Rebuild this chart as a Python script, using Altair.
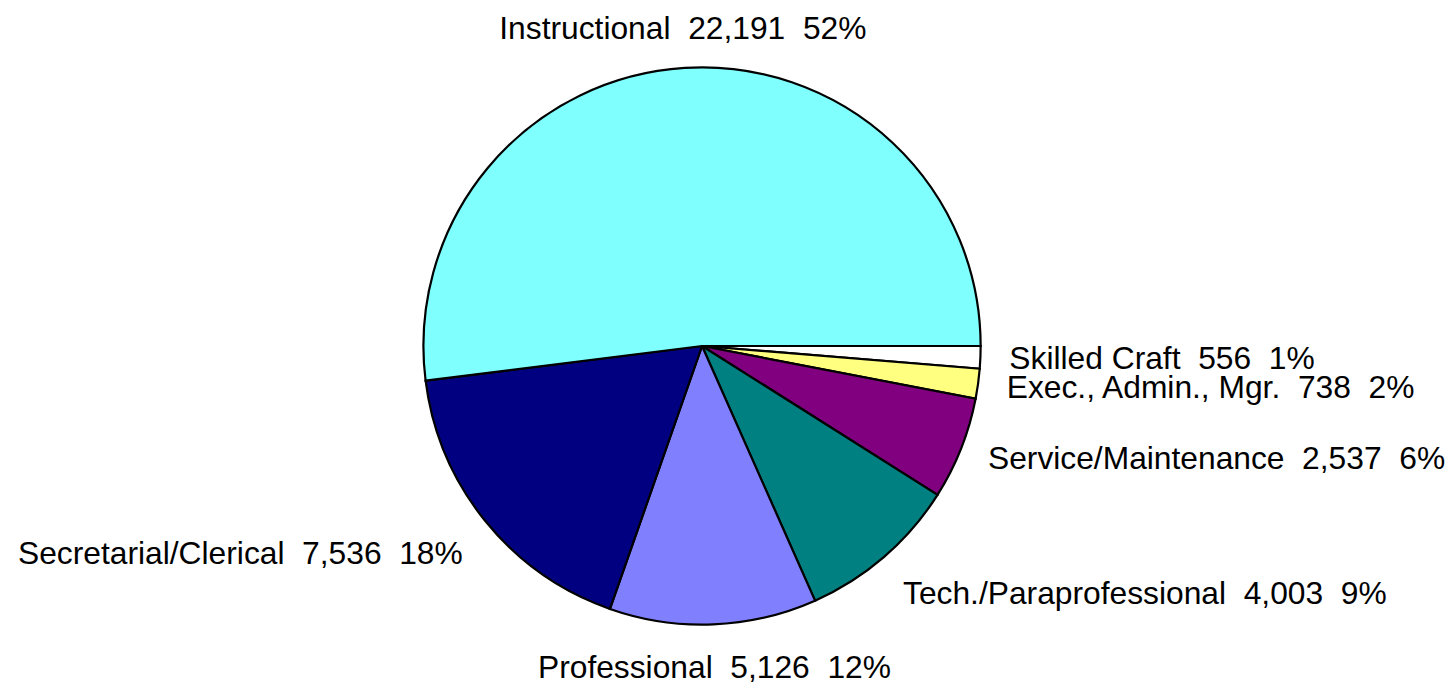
import math
import altair as alt
import pandas as pd

# Data, in clockwise order starting at 3 o'clock
categories = ["Skilled Craft", "Exec., Admin., Mgr.", "Service/Maintenance",
              "Tech./Paraprofessional", "Professional", "Secretarial/Clerical",
              "Instructional"]
values = [556, 738, 2537, 4003, 5126, 7536, 22191]
colors = ["#FFFFFF", "#FFFF80", "#800080", "#008080", "#8080FF", "#000080", "#80FFFF"]

df = pd.DataFrame({"cat": categories, "value": values, "idx": list(range(len(values)))})

R = 279
LR = 308
FONT = "Liberation Sans"
FS = 31.8

theta = alt.Theta("value:Q", stack=True,
                  scale=alt.Scale(range=[math.pi / 2, math.pi / 2 + 2 * math.pi]))
order = alt.Order("idx:Q", sort="ascending")

base = alt.Chart(df).transform_joinaggregate(
    total="sum(value)"
).transform_calculate(
    label="datum.cat + '\u00a0\u00a0' + format(datum.value, ',') + '\u00a0\u00a0' + format(datum.value / datum.total, '.0%')"
)

pie = base.mark_arc(radius=R, stroke="black", strokeWidth=2.2).encode(
    theta=theta,
    order=order,
    color=alt.Color("cat:N", scale=alt.Scale(domain=categories, range=colors), legend=None),
)

groups = [
    (["Skilled Craft", "Exec., Admin., Mgr.", "Service/Maintenance"], "left", "middle"),
    (["Tech./Paraprofessional"], "left", "top"),
    (["Professional"], "center", "top"),
    (["Secretarial/Clerical"], "right", "top"),
    (["Instructional"], "center", "alphabetic"),
]

layers = [pie]
for i, (names, align, baseline) in enumerate(groups):
    cond = " || ".join(["datum.cat == '%s'" % n for n in names])
    t = base.transform_calculate(
        **{"lbl%d" % i: "(%s) ? datum.label : ''" % cond}
    ).mark_text(radius=LR, align=align, baseline=baseline, font=FONT,
                fontSize=FS, color="black").encode(
        theta=theta,
        order=order,
        text=alt.Text("lbl%d:N" % i),
    )
    layers.append(t)

chart = alt.layer(*layers).properties(
    width=1390, height=676,
    autosize=alt.AutoSizeParams(type="none"),
    padding={"left": 0, "top": 0, "right": 50, "bottom": 0},
).configure_view(strokeOpacity=0)

chart.save("out.html", embed_options={"renderer": "svg", "actions": False})
